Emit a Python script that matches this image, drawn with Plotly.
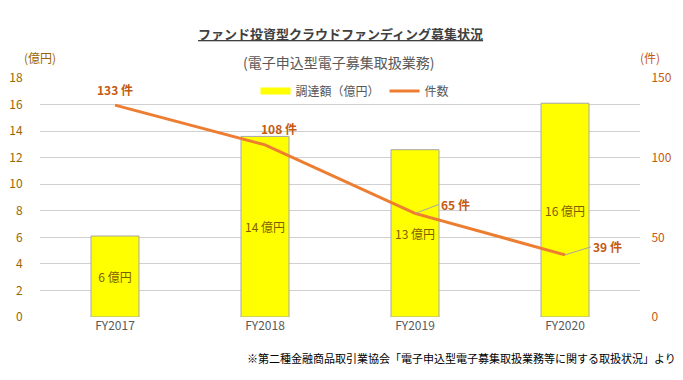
import plotly.graph_objects as go

categories = ["FY2017", "FY2018", "FY2019", "FY2020"]
amount = [6.1, 13.6, 12.6, 16.1]          # 調達額（億円）
amount_labels = ["6 億円", "14 億円", "13 億円", "16 億円"]
counts = [133, 108, 65, 39]               # 件数
count_labels = ["133 件", "108 件", "65 件", "39 件"]
left_ticks = [0, 2, 4, 6, 8, 10, 12, 14, 16, 18]
right_ticks = [0, 50, 100, 150]

FONT = "Noto Sans CJK JP"
ORANGE = "#ED7D31"
LBL = "#C55A11"
GRID = "#D0D0D0"

fig = go.Figure()
fig.add_trace(go.Bar(
    x=categories, y=amount, name="調達額（億円）", showlegend=False,
    marker=dict(color="#FFFF00", line=dict(color="#A6A6A6", width=1)),
    width=0.32,
    text=amount_labels, textposition="inside", insidetextanchor="middle",
    textangle=0, textfont=dict(color="#7F6000", size=12, family=FONT),
    hoverinfo="skip",
))
# legend swatch for the bars (wide rectangle like the original)
fig.add_trace(go.Scatter(
    x=[None], y=[None], name="調達額（億円）", mode="lines",
    line=dict(color="#FFFF00", width=7),
))
fig.add_trace(go.Scatter(
    x=categories, y=counts, name="件数", yaxis="y2", mode="lines",
    line=dict(color=ORANGE, width=3),
))

offsets = [(0, -16, False), (14, -16, False), (24, -9, True), (26, -8, True)]
for c, v, lab, (ax, ay, arrow) in zip(categories, counts, count_labels, offsets):
    fig.add_annotation(
        x=c, y=v, xref="x", yref="y2", text="<b>" + lab + "</b>",
        showarrow=True, arrowhead=0, arrowwidth=1,
        arrowcolor="#A6A6A6" if arrow else "rgba(0,0,0,0)",
        ax=ax, ay=ay, xanchor="left" if arrow else "center",
        font=dict(color=LBL, size=12, family=FONT),
    )

fig.add_annotation(xref="paper", yref="paper", x=(340 - 40) / 600, y=(317 - 22) / 239,
                   text="<u><b>ファンド投資型クラウドファンディング募集状況</b></u>",
                   showarrow=False, font=dict(size=13, color="#404040", family=FONT))
fig.add_annotation(xref="paper", yref="paper", x=(338 - 40) / 600, y=(317 - 50) / 239,
                   text="(電子申込型電子募集取扱業務)",
                   showarrow=False, font=dict(size=14, color="#595959", family=FONT))
fig.add_annotation(xref="paper", yref="paper", x=(22 - 40) / 600, y=(317 - 47) / 239,
                   text="(億円)", showarrow=False, font=dict(size=12, color="#9C6500", family=FONT))
fig.add_annotation(xref="paper", yref="paper", x=(662 - 40) / 600, y=(317 - 47) / 239,
                   text="(件)", showarrow=False, font=dict(size=12, color=LBL, family=FONT))
fig.add_annotation(xref="paper", yref="paper", x=(678 - 40) / 600, y=(317 - 368) / 239,
                   xanchor="right",
                   text="※第二種金融商品取引業協会「電子申込型電子募集取扱業務等に関する取扱状況」より",
                   showarrow=False, font=dict(size=11, color="#000000", family=FONT))

fig.update_layout(
    template="none",
    width=683, height=380,
    margin=dict(l=40, r=43, t=78, b=63, autoexpand=False),
    paper_bgcolor="white", plot_bgcolor="white",
    font=dict(family=FONT, size=12, color="#595959"),
    showlegend=True,
    legend=dict(orientation="h", x=(355 - 40) / 600, xanchor="center", y=(317 - 91) / 239, yanchor="middle",
                bgcolor="rgba(255,255,255,0)", font=dict(size=12, color="#595959", family=FONT),
                itemwidth=30),
    xaxis=dict(showgrid=False, showline=False, ticks="",
               tickfont=dict(color="#595959", size=12)),
    yaxis=dict(range=[0, 18], tickmode="array", tickvals=left_ticks, showgrid=True, gridcolor=GRID, gridwidth=1,
               zeroline=False, showline=False, ticks="outside", ticklen=14, tickcolor="rgba(0,0,0,0)",
               tickfont=dict(color="#9C6500", size=12)),
    yaxis2=dict(range=[0, 150], tickmode="array", tickvals=right_ticks, overlaying="y", side="right",
                showgrid=False, zeroline=False, ticks="outside", ticklen=8, tickcolor="rgba(0,0,0,0)",
                tickfont=dict(color=LBL, size=12)),
)

fig.write_html("out.html", config={"displayModeBar": False},
               post_script="document.body.style.margin='0';")
